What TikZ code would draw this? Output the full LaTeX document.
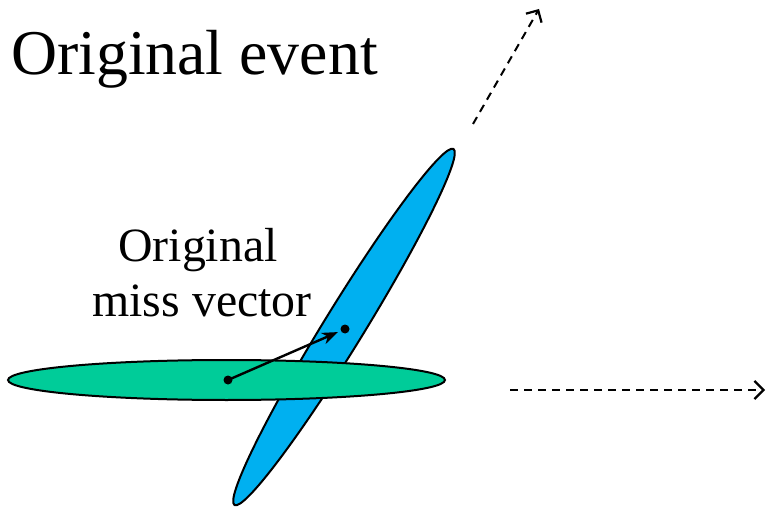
\documentclass[tikz,border=0pt]{standalone}
\usepackage{fontspec}
\setmainfont{Liberation Serif}
\usetikzlibrary{arrows.meta}
\definecolor{ellgreen}{RGB}{0,204,153}
\definecolor{ellblue}{RGB}{0,176,240}
\tikzset{
  ellshape/.style={draw=black, line width=2bp},
  dasharrow/.style={dash pattern=on 8bp off 6bp, line width=2bp, -{Straight Barb[length=9bp,width=18bp,line width=2.2bp]}},
  missarrow/.style={line width=2.4bp, -{Stealth[length=16bp,width=12bp,inset=5bp]}, shorten >=3bp},
  dotnode/.style={circle, fill=black, inner sep=0pt, minimum size=9bp},
}
\begin{document}
\begin{tikzpicture}[x=1bp,y=-1bp]
\useasboundingbox (0,0) rectangle (767,512);
% blue ellipse
\filldraw[ellshape, fill=ellblue] (344,327) ellipse [x radius=209bp, y radius=20bp, rotate=58.4];
% green ellipse
\filldraw[ellshape, fill=ellgreen] (226.5,380) ellipse [x radius=218.5bp, y radius=20bp];
% dots
\node[dotnode] (p) at (228,380) {};
\node[dotnode] (q) at (345,329) {};
\draw[missarrow] (p.center) -- (q);
% dashed arrows
\coordinate (a1) at (473,124);
\coordinate (a2) at (539,9);
\draw[dasharrow] (a1) -- (a2);
\coordinate (b1) at (510,390);
\coordinate (b2) at (765,390);
\draw[dasharrow] (b1) -- (b2);
% texts
\node[anchor=base west, font=\fontsize{64}{70}\selectfont, inner sep=0pt] (title) at (11,75) {Original event};
\node[anchor=base, font=\fontsize{48}{54}\selectfont, inner sep=0pt] (lab1) at (198,262) {Original};
\node[anchor=base, font=\fontsize{48}{54}\selectfont, inner sep=0pt] (lab2) at (202,316) {miss vector};
\end{tikzpicture}
\end{document}
